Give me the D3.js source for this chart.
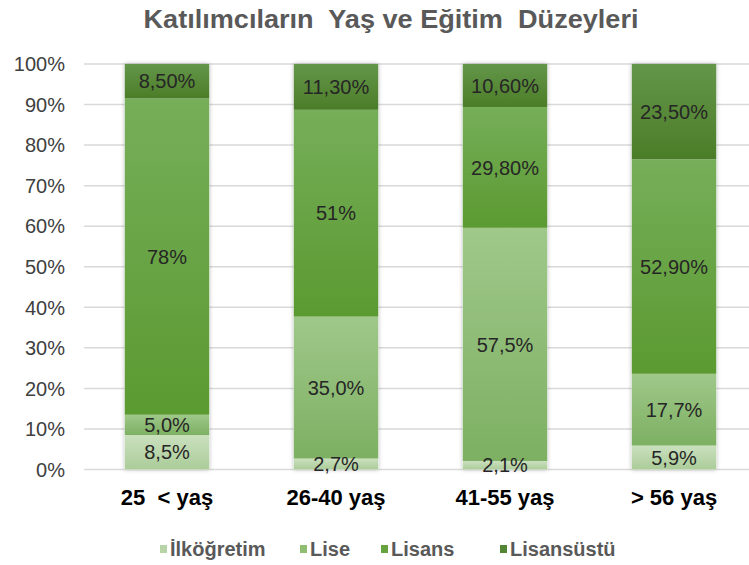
<!DOCTYPE html>
<html>
<head>
<meta charset="utf-8">
<script src="https://cdn.jsdelivr.net/npm/d3@7"></script>
<style>
  body { margin: 0; background: #fff; }
  text { font-family: "Liberation Sans", Arial, sans-serif; }
</style>
</head>
<body>
<div id="chart"></div>
<script>
var categories = ["25  < yaş", "26-40 yaş", "41-55 yaş", "> 56 yaş"];
var seriesNames = ["İlköğretim", "Lise", "Lisans", "Lisansüstü"];

var ilkogretim = [8.5, 2.7, 2.1, 5.9];
var lise = [5.0, 35.0, 57.5, 17.7];
var lisans = [78, 51, 29.8, 52.9];
var lisansustu = [8.5, 11.3, 10.6, 23.5];

var ilkogretimLabels = ["8,5%", "2,7%", "2,1%", "5,9%"];
var liseLabels = ["5,0%", "35,0%", "57,5%", "17,7%"];
var lisansLabels = ["78%", "51%", "29,80%", "52,90%"];
var lisansustuLabels = ["8,50%", "11,30%", "10,60%", "23,50%"];

var yTicks = [0, 10, 20, 30, 40, 50, 60, 70, 80, 90, 100];

// top / bottom colour of each segment gradient
var colors = [
    ["#cae0be", "#abcc99"],
    ["#9fc88a", "#7db062"],
    ["#76ae59", "#5b9a31"],
    ["#64964a", "#4b7d28"]
];
var legendColors = ["#b7d4a6", "#8fbe73", "#66a23e", "#538634"];

var width = 749, height = 565;

var svg = d3.select("#chart").append("svg")
            .attr("width", width)
            .attr("height", height);

var defs = svg.append("defs");
colors.forEach(function(c, i) {
    var g = defs.append("linearGradient")
                .attr("id", "grad" + i)
                .attr("x1", 0).attr("y1", 0)
                .attr("x2", 0).attr("y2", 1);
    g.append("stop").attr("offset", "0%").attr("stop-color", c[0]);
    g.append("stop").attr("offset", "100%").attr("stop-color", c[1]);
});
var shadow = defs.append("filter").attr("id", "shadow")
                 .attr("x", "-20%").attr("y", "-5%")
                 .attr("width", "140%").attr("height", "110%");
shadow.append("feDropShadow")
      .attr("dx", 0).attr("dy", 0)
      .attr("stdDeviation", 2)
      .attr("flood-color", "#000")
      .attr("flood-opacity", 0.3);

var x = d3.scaleBand()
          .domain(categories)
          .range([82.5, 758.5])
          .paddingInner(0.5)
          .paddingOuter(0.25);

var y = d3.scaleLinear()
          .domain([0, 100])
          .range([469.5, 64]);

// gridlines
svg.append("g").selectAll("line")
   .data(yTicks)
   .join("line")
   .attr("x1", 84)
   .attr("x2", width)
   .attr("y1", function(d) { return y(d); })
   .attr("y2", function(d) { return y(d); })
   .attr("stroke", "#d9d9d9")
   .attr("stroke-width", 1.5);

// y tick labels
svg.append("g").selectAll("text")
   .data(yTicks)
   .join("text")
   .attr("x", 65)
   .attr("y", function(d) { return y(d); })
   .attr("dy", "0.36em")
   .attr("text-anchor", "end")
   .attr("font-size", "20px")
   .attr("fill", "#404040")
   .text(function(d) { return d + "%"; });

var table = categories.map(function(c, i) {
    return {
        cat: c,
        "İlköğretim": ilkogretim[i],
        "Lise": lise[i],
        "Lisans": lisans[i],
        "Lisansüstü": lisansustu[i]
    };
});
var labelSets = [ilkogretimLabels, liseLabels, lisansLabels, lisansustuLabels];

var stacked = d3.stack().keys(seriesNames)(table);

var barGroup = svg.append("g");

// shadow behind each whole bar
barGroup.selectAll("rect.bg")
   .data(table)
   .join("rect")
   .attr("class", "bg")
   .attr("x", function(d) { return x(d.cat); })
   .attr("width", x.bandwidth())
   .attr("y", y(100))
   .attr("height", y(0) - y(100))
   .attr("fill", "#fff")
   .attr("filter", "url(#shadow)");

stacked.forEach(function(layer, si) {
    barGroup.append("g").selectAll("rect")
       .data(layer)
       .join("rect")
       .attr("x", function(d) { return x(d.data.cat); })
       .attr("width", x.bandwidth())
       .attr("y", function(d) { return y(d[1]); })
       .attr("height", function(d) { return y(d[0]) - y(d[1]); })
       .attr("fill", "url(#grad" + si + ")");
});

// data labels
stacked.forEach(function(layer, si) {
    svg.append("g").selectAll("text")
       .data(layer)
       .join("text")
       .attr("x", function(d) { return x(d.data.cat) + x.bandwidth() / 2; })
       .attr("y", function(d) { return (y(d[0]) + y(d[1])) / 2; })
       .attr("dy", "0.36em")
       .attr("text-anchor", "middle")
       .attr("font-size", "20px")
       .attr("fill", "#262626")
       .text(function(d, i) { return labelSets[si][i]; });
});

// category labels
svg.append("g").selectAll("text")
   .data(categories)
   .join("text")
   .attr("x", function(d) { return x(d) + x.bandwidth() / 2; })
   .attr("y", 505)
   .attr("text-anchor", "middle")
   .attr("font-size", "22px")
   .attr("font-weight", "bold")
   .attr("fill", "#000")
   .style("white-space", "pre")
   .text(function(d) { return d; });

// title
svg.append("text")
   .attr("x", 391)
   .attr("y", 28)
   .attr("text-anchor", "middle")
   .attr("font-size", "25px")
   .attr("font-weight", "bold")
   .attr("fill", "#595959")
   .attr("textLength", 495)
   .attr("lengthAdjust", "spacingAndGlyphs")
   .style("white-space", "pre")
   .text("Katılımcıların  Yaş ve Eğitim  Düzeyleri");

// legend
var legendX = [160, 300, 381, 500];
var legend = svg.append("g").selectAll("g")
   .data(seriesNames)
   .join("g")
   .attr("transform", function(d, i) { return "translate(" + legendX[i] + ",545)"; });
legend.append("rect")
   .attr("width", 7)
   .attr("height", 8)
   .attr("fill", function(d, i) { return legendColors[i]; });
legend.append("text")
   .attr("x", 10)
   .attr("y", 4)
   .attr("dy", "0.36em")
   .attr("font-size", "20px")
   .attr("font-weight", "bold")
   .attr("fill", "#595959")
   .text(function(d) { return d; });
</script>
</body>
</html>
